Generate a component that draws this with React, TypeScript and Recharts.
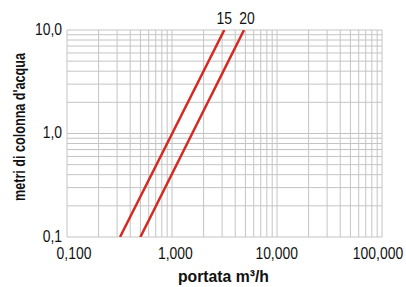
import { LineChart, Line, XAxis, YAxis, CartesianGrid, Label } from "recharts";

// log grid positions (m3/h and m)
const xTicks = [
  0.1, 0.2, 0.3, 0.4, 0.5, 0.6, 0.7, 0.8, 0.9,
  1, 2, 3, 4, 5, 6, 7, 8, 9,
  10, 20, 30, 40, 50, 60, 70, 80, 90,
  100,
];
const yTicks = [
  0.1, 0.2, 0.3, 0.4, 0.5, 0.6, 0.7, 0.8, 0.9,
  1, 2, 3, 4, 5, 6, 7, 8, 9,
  10,
];
const xLabelled = [0.1, 1, 10, 100];
const yLabelled = [0.1, 1, 10];

// curves
const flow15 = [0.32, 3.15];
const head15 = [0.1, 10];
const flow20 = [0.5, 4.85];
const head20 = [0.1, 10];

const curve15 = flow15.map((q, i) => ({ q, h: head15[i] }));
const curve20 = flow20.map((q, i) => ({ q, h: head20[i] }));

const FONT = "'Liberation Sans', Arial, sans-serif";
const RED = "#d42a22";
const INK = "#111";
const NARROW = "scale(0.87,1)";

const fmtX = (v: number) => (xLabelled.includes(v) ? v.toFixed(3).replace(".", ",") : "");
const fmtY = (v: number) => (yLabelled.includes(v) ? v.toFixed(1).replace(".", ",") : "");

const XTick = ({ x, y, payload }: any) => {
  const txt = fmtX(payload.value);
  if (!txt) return <g />;
  // labels drift a little left across the axis in the original
  const shift = 7 - (11 * (x - 67)) / 315;
  return (
    <g transform={`translate(${x + shift},${y})`}>
      <text transform={NARROW} y={22} textAnchor="middle" fontSize={16} fontFamily={FONT} fill={INK}>
        {txt}
      </text>
    </g>
  );
};

const YTick = ({ x, y, payload }: any) => {
  const txt = fmtY(payload.value);
  if (!txt) return <g />;
  return (
    <g transform={`translate(${x},${y})`}>
      <text transform={NARROW} y={4.5} textAnchor="end" fontSize={16} fontFamily={FONT} fill={INK}>
        {txt}
      </text>
    </g>
  );
};

const endLabel = (text: string, last: number, dx: number) => (props: any) => {
  if (props.index !== last) return <g />;
  return (
    <g transform={`translate(${props.x + dx},${props.y - 6})`}>
      <text transform={NARROW} textAnchor="middle" fontSize={16} fontFamily={FONT} fill={INK}>
        {text}
      </text>
    </g>
  );
};

export default function App() {
  return (
    <div style={{ position: "absolute", left: 0, top: 0, background: "#fff" }}>
      <LineChart width={406} height={287} margin={{ top: 30, right: 24, bottom: 0, left: 0 }}>
        <CartesianGrid stroke="#c4c4c4" />
        <XAxis
          type="number"
          dataKey="q"
          scale="log"
          domain={[0.1, 100]}
          allowDataOverflow
          ticks={xTicks}
          interval={0}
          axisLine={false}
          tickLine={false}
          tickSize={0}
          tickMargin={0}
          height={50}
          tick={<XTick />}
        >
          <Label
            content={({ viewBox }: any) => (
              <text
                x={viewBox.x + viewBox.width / 2 - 1}
                y={282}
                textAnchor="middle"
                fontSize={17}
                fontWeight="bold"
                fontFamily={FONT}
                fill={INK}
                textLength={91}
                lengthAdjust="spacingAndGlyphs"
              >
                portata m³/h
              </text>
            )}
          />
        </XAxis>
        <YAxis
          type="number"
          dataKey="h"
          scale="log"
          domain={[0.1, 10]}
          allowDataOverflow
          ticks={yTicks}
          interval={0}
          axisLine={false}
          tickLine={false}
          tickSize={0}
          tickMargin={5}
          width={67}
          tick={<YTick />}
        >
          <Label
            content={() => (
              <text
                x={19}
                y={127}
                transform="rotate(-90, 19, 127)"
                textAnchor="middle"
                dominantBaseline="central"
                fontSize={17}
                fontWeight="bold"
                fontFamily={FONT}
                fill={INK}
                textLength={148}
                lengthAdjust="spacingAndGlyphs"
              >
                metri di colonna d'acqua
              </text>
            )}
          />
        </YAxis>
        <Line
          data={curve15}
          dataKey="h"
          stroke={RED}
          strokeWidth={2.5}
          dot={false}
          isAnimationActive={false}
          label={endLabel("15", curve15.length - 1, 0)}
        />
        <Line
          data={curve20}
          dataKey="h"
          stroke={RED}
          strokeWidth={2.5}
          dot={false}
          isAnimationActive={false}
          label={endLabel("20", curve20.length - 1, 3)}
        />
      </LineChart>
    </div>
  );
}
